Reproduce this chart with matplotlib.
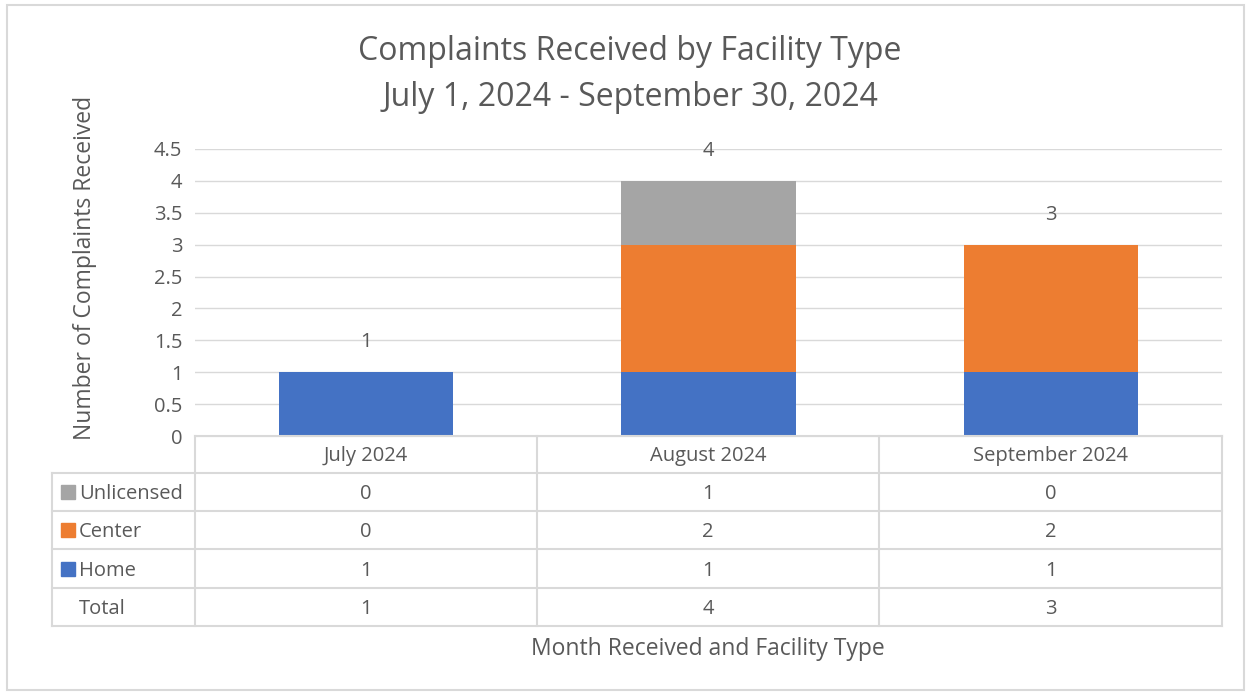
import numpy as np
import matplotlib.pyplot as plt
from matplotlib.lines import Line2D
from matplotlib.patches import Rectangle

plt.rcParams['font.family'] = ['Open Sans', 'DejaVu Sans']

months = ['July 2024', 'August 2024', 'September 2024']
home = [1, 1, 1]
center = [0, 2, 2]
unlicensed = [0, 1, 0]
totals = [h + c + u for h, c, u in zip(home, center, unlicensed)]

yticks = [0, 0.5, 1, 1.5, 2, 2.5, 3, 3.5, 4, 4.5]

blue = '#4472C4'
orange = '#ED7D31'
gray = '#A5A5A5'
txt = '#595959'
line_c = '#D9D9D9'

W, H = 1250, 694


def fx(px):
    return px / W


def fy(py):
    return 1 - py / H


fig = plt.figure(figsize=(12.5, 6.94), dpi=100)
ax = fig.add_axes([fx(195), fy(436), fx(1222) - fx(195), fy(149) - fy(436)])

x = np.arange(len(months))
bw = 0.51
ax.bar(x, home, bw, color=blue, zorder=3)
ax.bar(x, center, bw, bottom=home, color=orange, zorder=3)
ax.bar(x, unlicensed, bw, bottom=np.add(home, center), color=gray, zorder=3)

for xi, t in zip(x, totals):
    ax.annotate(str(t), (xi, t), xytext=(0, 21.5), textcoords='offset points',
                ha='center', va='center', fontsize=14.5, color=txt)

ax.set_xlim(-0.5, len(months) - 0.5)
ax.set_ylim(0, 4.5)
ax.set_yticks(yticks)
ax.set_yticklabels([f'{v:g}' for v in yticks], fontsize=14.5, color=txt)
ax.set_xticks([])
ax.tick_params(axis='y', length=0, pad=9)
ax.grid(axis='y', color=line_c, linewidth=1, zorder=0)
for s in ['top', 'right', 'left']:
    ax.spines[s].set_visible(False)
ax.spines['bottom'].set_color(line_c)

# data table below the axes
col_edges = [195, 537, 879, 1222]
row_edges = [436, 473, 511, 549, 588, 626]
rows = [('Unlicensed', gray, unlicensed), ('Center', orange, center),
        ('Home', blue, home), ('Total', None, totals)]


def hline(py, x0, x1):
    fig.add_artist(Line2D([fx(x0), fx(x1)], [fy(py), fy(py)], color=line_c, lw=1.5))


def vline(px, y0, y1):
    fig.add_artist(Line2D([fx(px), fx(px)], [fy(y0), fy(y1)], color=line_c, lw=1.5))


hline(436, 195, 1222)
for py in row_edges[1:]:
    hline(py, 52, 1222)
for px in col_edges:
    vline(px, 436, 626)
vline(52, 473, 626)

dy = 2  # nudge text down to sit like the reference
for i, m in enumerate(months):
    cx = (col_edges[i] + col_edges[i + 1]) / 2
    fig.text(fx(cx), fy((row_edges[0] + row_edges[1]) / 2 + dy), m, ha='center', va='center',
             fontsize=14.5, color=txt)

for r, (name, col, vals) in enumerate(rows):
    cy = (row_edges[r + 1] + row_edges[r + 2]) / 2
    if col is not None:
        fig.add_artist(Rectangle((fx(61), fy(cy + 7)), fx(14), 14 / H, color=col))
    fig.text(fx(79), fy(cy + dy), name, ha='left', va='center', fontsize=14.5, color=txt)
    for i, v in enumerate(vals):
        cx = (col_edges[i] + col_edges[i + 1]) / 2
        fig.text(fx(cx), fy(cy + dy), str(v), ha='center', va='center', fontsize=14.5, color=txt)

fig.text(fx(708), fy(649), 'Month Received and Facility Type', ha='center', va='center',
         fontsize=16.5, color=txt)
fig.text(fx(85), fy(268), 'Number of Complaints Received', ha='center', va='center',
         rotation=90, fontsize=16.5, color=txt)
fig.text(fx(630), fy(51), 'Complaints Received by Facility Type',
         ha='center', va='center', fontsize=23, color=txt)
fig.text(fx(630), fy(98), 'July 1, 2024 - September 30, 2024',
         ha='center', va='center', fontsize=23, color=txt)

fig.add_artist(Rectangle((fx(7), fy(690)), fx(1244) - fx(7), fy(5) - fy(690),
                         fill=False, edgecolor=line_c, lw=1.5))

fig.savefig('out.png', dpi=100)
